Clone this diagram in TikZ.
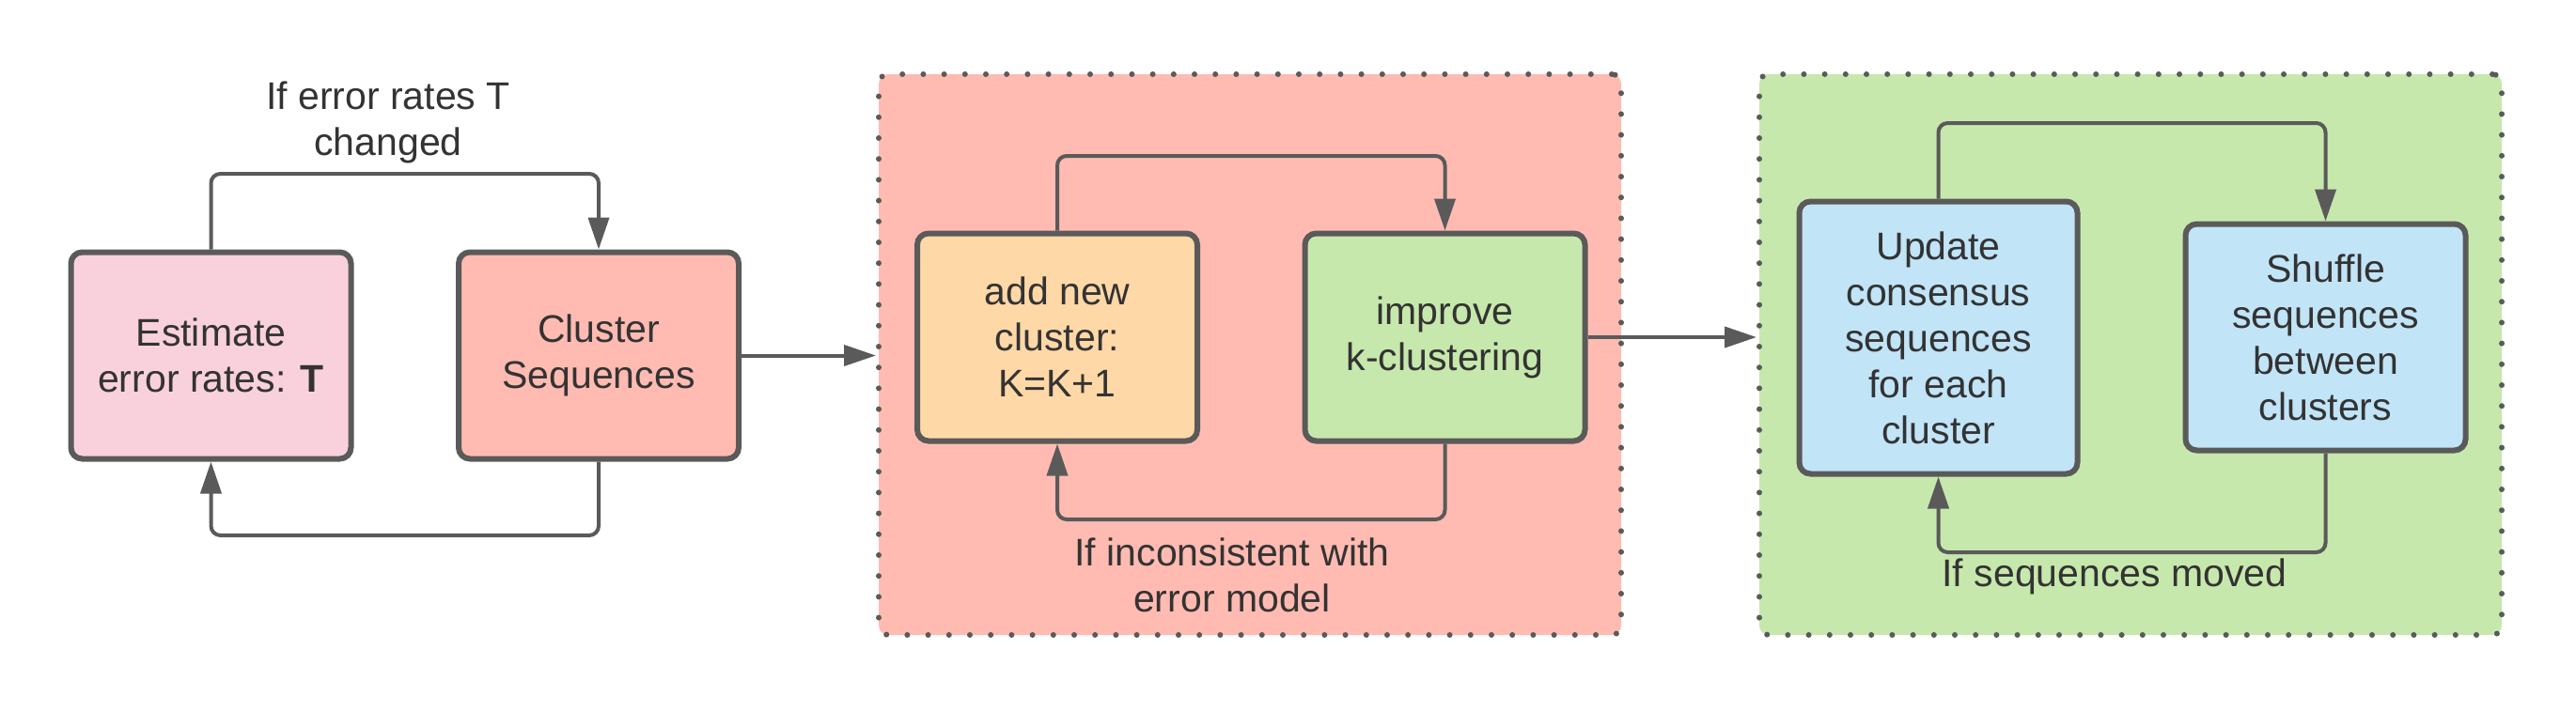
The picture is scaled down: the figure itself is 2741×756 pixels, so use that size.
\documentclass[tikz,border=0pt]{standalone}
\usepackage{fontspec}
\setmainfont{Liberation Sans}
\usepackage{tikz}
\usepackage{xcolor}
\usetikzlibrary{arrows.meta}

\definecolor{linegray}{HTML}{5A5A5A}
\definecolor{textgray}{HTML}{333333}
\definecolor{pinkfill}{HTML}{F9D1DC}
\definecolor{salmonfill}{HTML}{FFBBB1}
\definecolor{orangefill}{HTML}{FFD8A7}
\definecolor{greenfill}{HTML}{C7E8AC}
\definecolor{bluefill}{HTML}{C1E4F7}

\begin{document}
\begin{tikzpicture} [
        x = 0.5pt, y = -0.5pt,
        font = \fontsize{20.5}{24.5}\selectfont,
        text = textgray,
        box/.style = { draw = linegray, line width = 3pt, rounded corners = 6pt, minimum width = 149pt, minimum height = 110pt, align = center, inner sep = 0 },
        container/.style = { draw = linegray, line width = 3pt, line cap = round, dash pattern = on 0pt off 11.1pt, rounded corners = 5pt, minimum width = 395pt, minimum height = 298.5pt },
        conn/.style = { draw = linegray, line width = 2pt, rounded corners = 5pt, -{Triangle[length = 17pt, width = 11pt]} },
        lbl/.style = { align = center }
        ]
        \useasboundingbox (0,0) rectangle (2741,756);

        % dotted groups
        \node (redgrp) [container, fill = salmonfill] at (1330,377.5) {};
        \node (greengrp) [container, fill = greenfill] at (2267,377.5) {};

        % steps
        \node (est) [box, fill = pinkfill] at (224.5,378.5) {Estimate\\error rates: \textbf{T}};
        \node (clu) [box, fill = salmonfill] at (637,378.5) {Cluster\\Sequences};
        \node (add) [box, fill = orangefill, minimum height = 110.5pt] at (1125,359) {add new\\cluster:\\K=K+1};
        \node (imp) [box, fill = greenfill, minimum height = 110.5pt] at (1537.5,359) {improve\\k-clustering};
        \node (upd) [box, fill = bluefill, minimum width = 148pt, minimum height = 145pt] at (2062.5,359.5) {Update\\consensus\\sequences\\for each\\cluster};
        \node (shu) [box, fill = bluefill, minimum height = 120.5pt] at (2474.5,359) {Shuffle\\sequences\\between\\clusters};

        % loops
        \draw [conn] (est.north) -- ++(0,-80.5) -| (clu.north);
        \draw [conn] (clu.south) -- ++(0,78.5) -| (est.south);
        \draw [conn] (add.north) -- ++(0,-79.5) -| (imp.north);
        \draw [conn] (imp.south) -- ++(0,80.5) -| (add.south);
        \draw [conn] (upd.north) -- ++(0,-80.5) -| (shu.north);
        \draw [conn] (shu.south) -- ++(0,105.5) -| (upd.south);

        % between groups
        \draw [conn] (clu.east) -- (clu.east -| redgrp.west);
        \draw [conn] (imp.east) -- (imp.east -| greengrp.west);

        \node (lblT) [lbl] at (413,130) {If error rates T\\changed};
        \node (lblK) [lbl] at (1311,612) {If inconsistent with\\error model};
        \node (lblS) [lbl] at (2250,614) {If sequences moved};
    \end{tikzpicture}
\end{document}
